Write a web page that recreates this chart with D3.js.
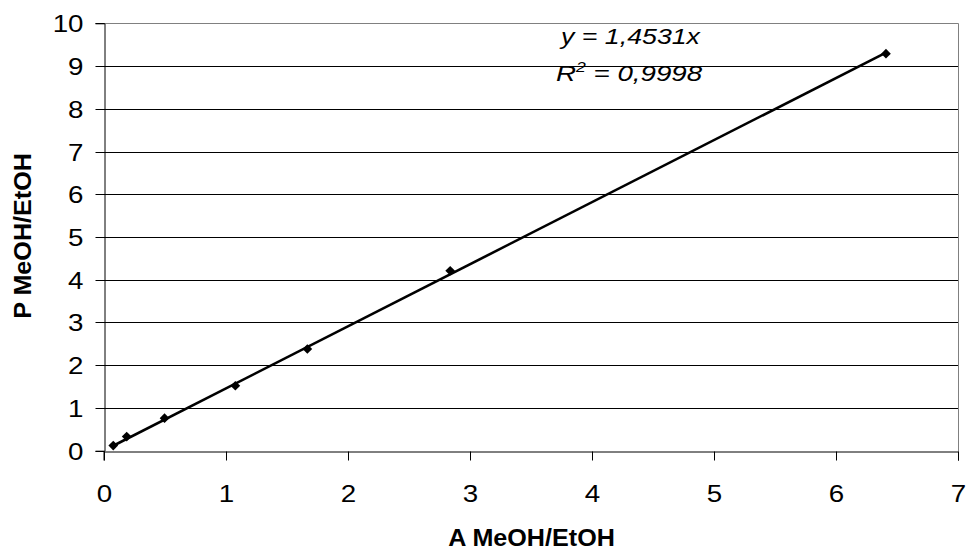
<!DOCTYPE html>
<html><head><meta charset="utf-8">
<script src="https://cdn.jsdelivr.net/npm/d3@7"></script>
<style>body{margin:0;background:#fff}svg{display:block}text{font-family:"Liberation Sans",Arial,sans-serif}</style>
</head><body><svg id="c" width="968" height="551"></svg>
<script>
const xValues = [0.08, 0.19, 0.5, 1.08, 1.67, 2.84, 6.41];
const yValues = [0.12, 0.33, 0.76, 1.52, 2.38, 4.21, 9.29];
const slope = 1.4531;
const xTicks = [0,1,2,3,4,5,6,7];
const yTicks = [0,1,2,3,4,5,6,7,8,9,10];
const eqText = "y = 1,4531x";
const xTitle = "A MeOH/EtOH", yTitle = "P MeOH/EtOH";

const svg = d3.select("#c");
const L=103.5, R=958, T=23.3, B=450.7;
const x = d3.scaleLinear().domain([0,7]).range([L,R]);
const y = d3.scaleLinear().domain([0,10]).range([B,T]);
const px = v => Math.round(v)+0.5;

// gridlines
svg.append("g").selectAll("line").data(yTicks.slice(1,-1)).join("line")
  .attr("x1",L).attr("x2",R).attr("y1",d=>px(y(d))).attr("y2",d=>px(y(d)))
  .attr("stroke","#000").attr("stroke-width",1);
// plot border top/right
svg.append("path").attr("d",`M${px(L)},${px(T)}H${px(R)}V${px(B)}`).attr("fill","none").attr("stroke","#808080");

const xa = svg.append("g").attr("transform",`translate(0,${px(B)})`)
  .call(d3.axisBottom(x).tickValues(xTicks).tickFormat(d3.format("d")).tickSize(9).tickPadding(0));
const ya = svg.append("g").attr("transform",`translate(${px(L)},0)`)
  .call(d3.axisLeft(y).tickValues(yTicks).tickFormat(d3.format("d")).tickSize(9).tickPadding(0));
[xa,ya].forEach(a=>{a.select(".domain").attr("stroke","#000");a.selectAll(".tick line").attr("stroke","#000");
  a.selectAll("text").attr("font-size",23.5).attr("fill","#000").attr("font-family","Liberation Sans, Arial, sans-serif");});
ya.selectAll(".tick").attr("transform",d=>`translate(0,${px(y(d))})`);
xa.selectAll(".tick").attr("transform",d=>`translate(${px(x(d))},0)`);
xa.selectAll("text").attr("y",0).attr("dy",null).attr("transform","translate(0,50) scale(1.18,1)");
ya.selectAll("text").attr("x",0).attr("dy",null).attr("transform","translate(-21,8.5) scale(1.18,1)");

// trendline
svg.append("line").attr("x1",x(xValues[0])).attr("y1",y(slope*xValues[0]))
  .attr("x2",x(xValues[xValues.length-1])).attr("y2",y(slope*xValues[xValues.length-1]))
  .attr("stroke","#000").attr("stroke-width",2.6);

// markers
svg.append("g").selectAll("path").data(xValues.map((v,i)=>[v,yValues[i]])).join("path")
  .attr("d",d3.symbol(d3.symbolDiamond2 || d3.symbolDiamond,60))
  .attr("transform",d=>`translate(${x(d[0])},${y(d[1])})`).attr("fill","#000");

// equation
svg.append("text").attr("x",561).attr("y",43.5).attr("font-size",22)
  .attr("font-style","italic").attr("textLength",139).attr("lengthAdjust","spacingAndGlyphs").text(eqText);
const r2 = svg.append("text").attr("transform","translate(556,80.5) scale(1.26,1)").attr("font-size",22).attr("font-style","italic");
r2.append("tspan").text("R");
r2.append("tspan").attr("dy",-9).attr("font-size",14).text("2");
r2.append("tspan").attr("dy",9).text(" = 0,9998");

svg.append("text").attr("transform","translate(531.5,546) scale(1.07,1)").attr("text-anchor","middle").attr("font-size",23.5).attr("font-weight","bold").text(xTitle);
svg.append("text").attr("transform","translate(31,236) rotate(-90) scale(1.07,1)").attr("text-anchor","middle").attr("font-size",23.5).attr("font-weight","bold").text(yTitle);
</script></body></html>
